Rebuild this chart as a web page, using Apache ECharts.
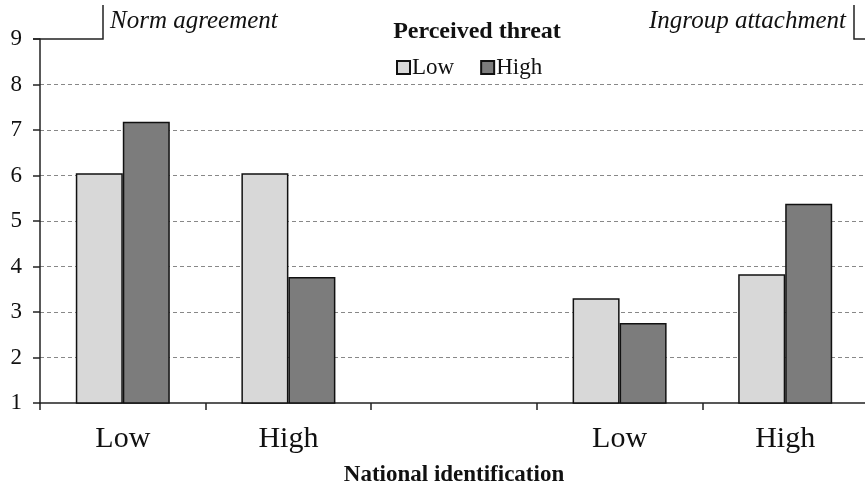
<!DOCTYPE html>
<html>
<head>
<meta charset="utf-8">
<script src="https://cdn.jsdelivr.net/npm/echarts@6/dist/echarts.min.js"></script>
<style>html,body{margin:0;padding:0;background:#fff;}#c{width:865px;height:486px;}</style>
</head>
<body>
<div id="c"></div>
<script>
var categories = ['Low', 'High', '', 'Low', 'High'];
var lowThreat = [6.05, 6.05, null, 3.3, 3.83];
var highThreat = [7.18, 3.77, null, 2.76, 5.38];
var yTicks = [1, 2, 3, 4, 5, 6, 7, 8, 9];

var serif = 'Liberation Serif';
var chart = echarts.init(document.getElementById('c'), null, {renderer: 'canvas'});
chart.setOption({
  animation: false,
  backgroundColor: '#fff',
  title: {
    text: 'Perceived threat',
    left: 472, top: 15, textAlign: 'center',
    textStyle: {fontFamily: serif, fontSize: 24, fontWeight: 'bold', color: '#111'}
  },
  legend: {
    left: 391, top: 51,
    itemWidth: 13, itemHeight: 13, itemGap: 26,
    icon: 'rect',
    textStyle: {fontFamily: serif, fontSize: 23, color: '#111', padding: [0, 0, 0, -3]},
    data: ['Low', 'High']
  },
  grid: {left: 40, right: -3, top: 39, bottom: 83, containLabel: false, outerBoundsMode: 'none'},
  xAxis: {
    type: 'category',
    data: categories,
    name: 'National identification',
    nameLocation: 'middle',
    nameGap: 61,
    nameTextStyle: {fontFamily: serif, fontSize: 23, fontWeight: 'bold', color: '#111'},
    axisLine: {lineStyle: {color: '#222', width: 1.5}},
    axisTick: {show: true, inside: false, length: 7, lineStyle: {color: '#222', width: 1.5}},
    axisLabel: {fontFamily: serif, fontSize: 30, color: '#111', margin: 21}
  },
  yAxis: {
    type: 'value',
    min: 1, max: 9, interval: 1,
    axisLine: {show: true, lineStyle: {color: '#222', width: 1.5}},
    axisTick: {show: true, length: 7, lineStyle: {color: '#222', width: 1.5}},
    axisLabel: {fontFamily: serif, fontSize: 23, color: '#111', margin: 18,
      formatter: function (v) { return yTicks.indexOf(v) >= 0 ? String(v) : ''; }},
    splitLine: {show: true, showMinLine: false, showMaxLine: false,
      lineStyle: {color: '#888', type: [4, 3], width: 1.2}}
  },
  series: [
    {name: 'Low', type: 'bar', data: lowThreat, barWidth: 47, barGap: '0%',
      itemStyle: {color: '#d8d8d8', borderColor: '#111', borderWidth: 1.5}},
    {name: 'High', type: 'bar', data: highThreat, barWidth: 47, barGap: '0%',
      itemStyle: {color: '#7c7c7c', borderColor: '#111', borderWidth: 1.5}}
  ],
  graphic: [
    {type: 'polyline', shape: {points: [[33, 39], [103, 39], [103, 5]]},
      style: {stroke: '#222', lineWidth: 1.5, fill: null}},
    {type: 'polyline', shape: {points: [[854, 5], [854, 39], [866, 39]]},
      style: {stroke: '#222', lineWidth: 1.5, fill: null}},
    {type: 'text', left: 110, top: 9,
      style: {text: 'Norm agreement', fontFamily: serif, fontSize: 25, fontStyle: 'italic', fill: '#111'}},
    {type: 'text', right: 19, top: 9,
      style: {text: 'Ingroup attachment', fontFamily: serif, fontSize: 25, fontStyle: 'italic', fill: '#111', textAlign: 'right'}}
  ]
});
</script>
</body>
</html>
